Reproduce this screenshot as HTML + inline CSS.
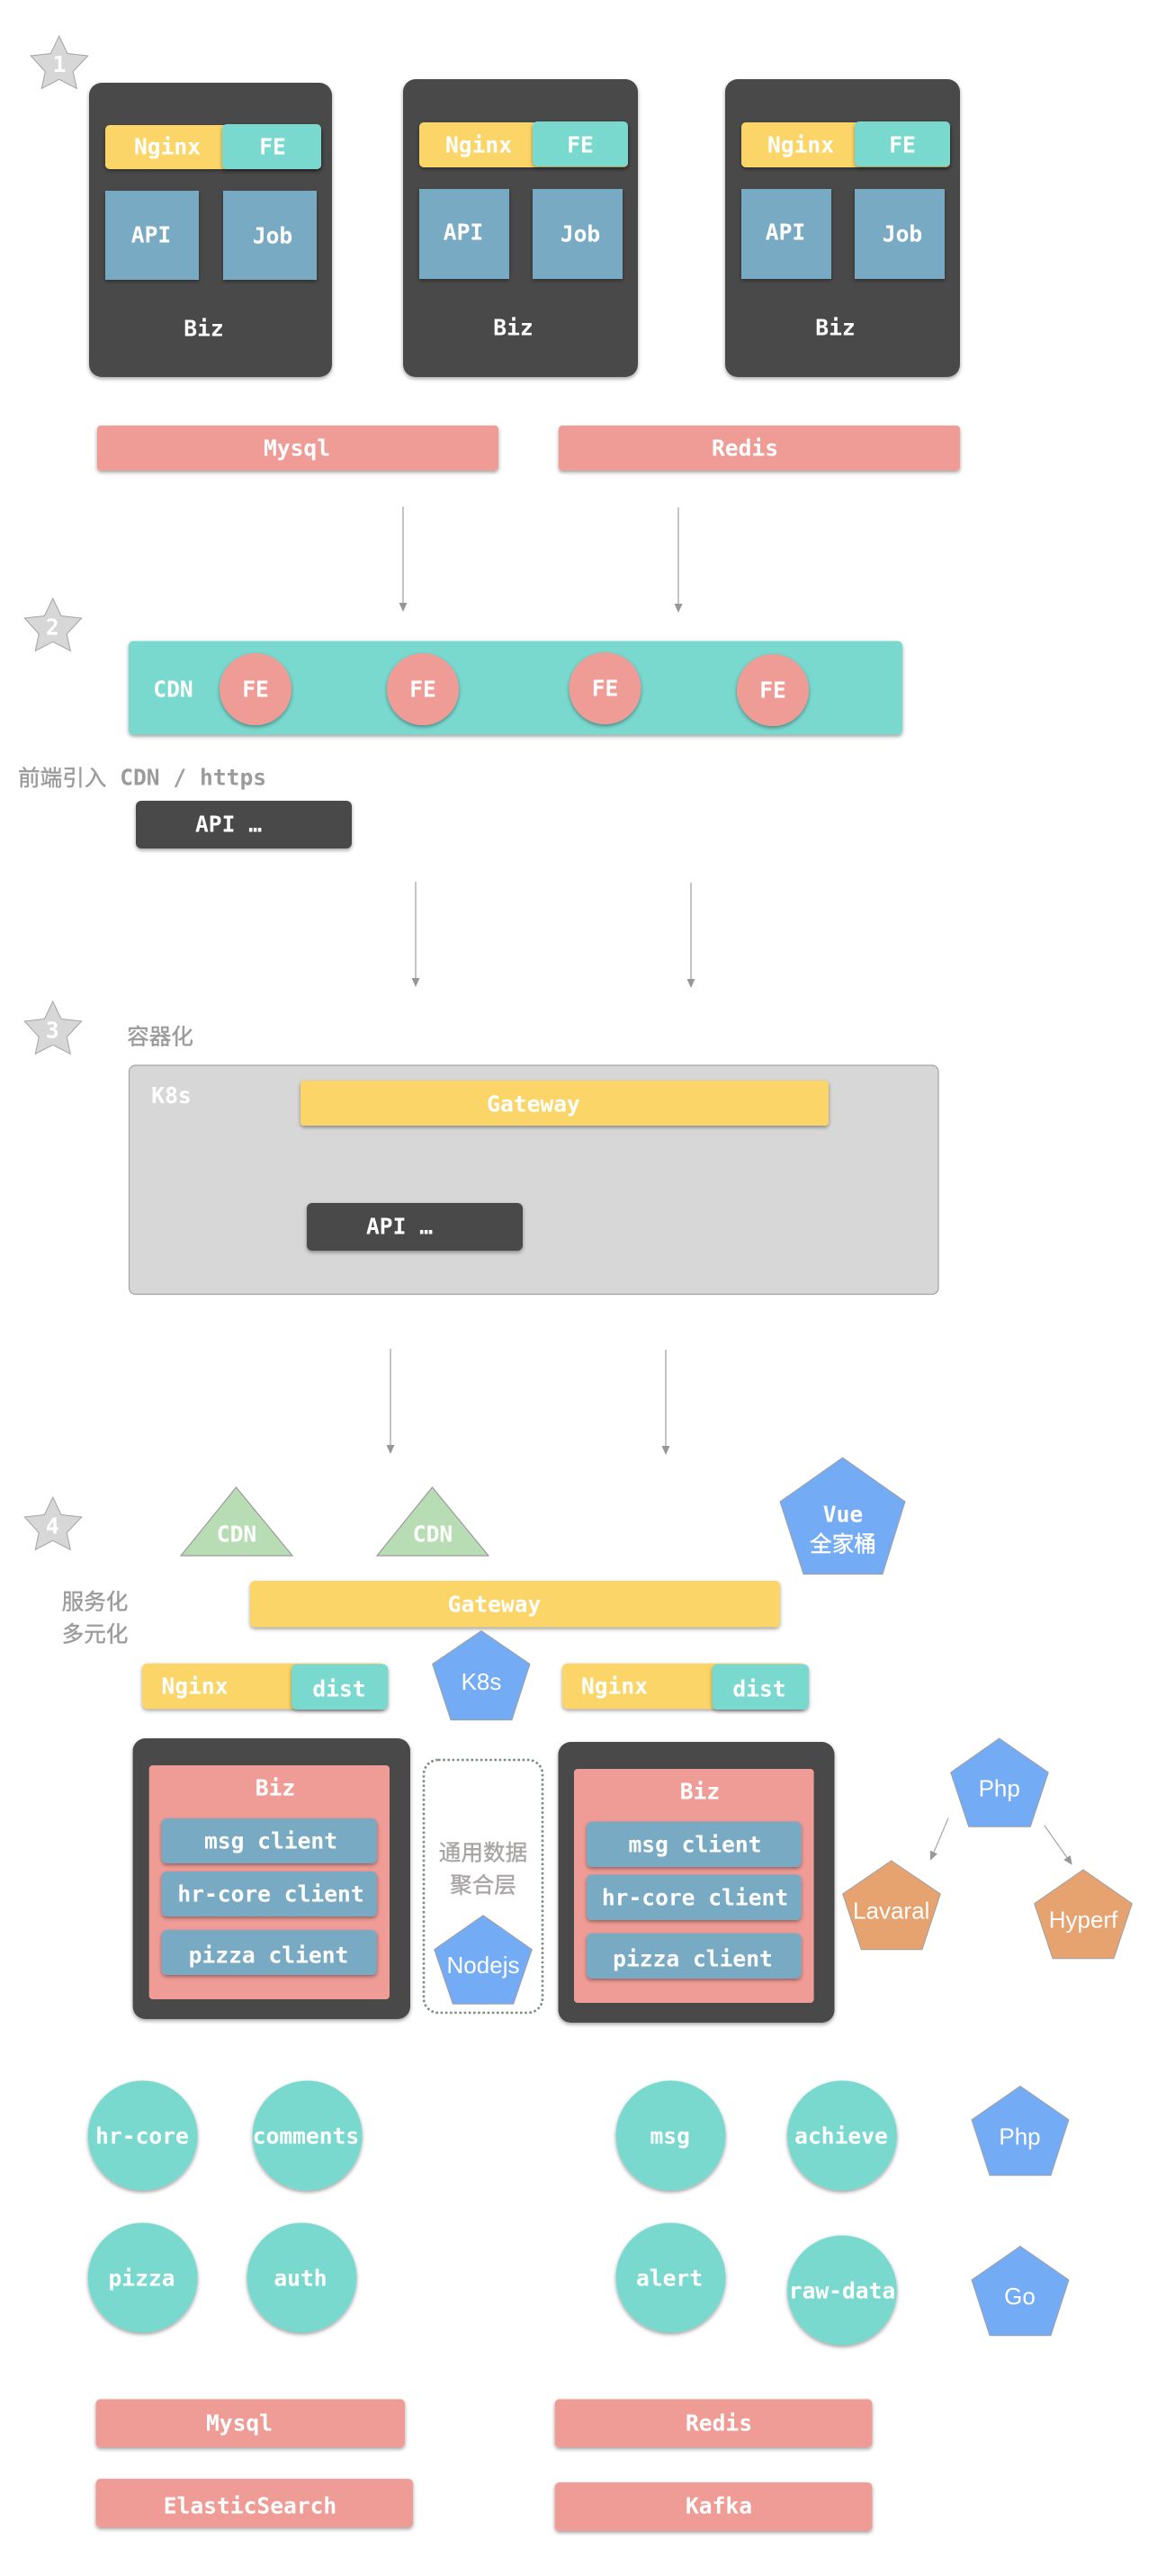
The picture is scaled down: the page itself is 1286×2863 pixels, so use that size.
<!DOCTYPE html>
<html><head><meta charset="utf-8">
<style>
html,body{margin:0;padding:0;background:#fff}
svg{display:block}
text{font-family:"DejaVu Sans Mono","Noto Sans CJK SC",monospace;font-weight:bold;font-size:24.6px;fill:#fff;text-anchor:middle;dominant-baseline:central}
text.s{font-family:"Liberation Sans","Noto Sans CJK SC",sans-serif;font-weight:normal;font-size:26px}
text.g{fill:#9b9b9b}
.c{font-weight:400;stroke-width:.4px}
.dk{fill:#4a4a4a}.ye{fill:#fbd568}.te{fill:#7ad9cf}.bl{fill:#78aac3}.pk{fill:#f09c96}
.pn{fill:#74abf5;stroke:#a0a0a0;stroke-width:1}
.or{fill:#e6a26f;stroke:#a0a0a0;stroke-width:1}
.tr{fill:#b8dcb4;stroke:#9b9b9b;stroke-width:1.2}
.ln{stroke:#b5b5b5;stroke-width:1.6;fill:none}
.ah{fill:#979797}
.sd rect,.sd ellipse,.sd circle{filter:url(#sh)}
</style></head>
<body>
<svg xmlns="http://www.w3.org/2000/svg" width="1286" height="2863" viewBox="0 0 1286 2863">
<defs>
<filter id="sh" x="-20%" y="-20%" width="140%" height="150%"><feDropShadow dx="0" dy="2" stdDeviation="2" flood-color="#000" flood-opacity="0.38"/></filter>
<polygon id="star" points="65.7,40 75,59.5 97.7,62 81.2,79.5 85.3,98.3 65.7,88.3 46.3,98.3 50.2,79.5 34.3,62 56.4,59.5" fill="#d7d7d7" stroke="#a3a3a3" stroke-width="1"/>
</defs>
<rect width="1286" height="2863" fill="#fff"/>

<!-- stars -->
<use href="#star"/>
<text x="66" y="71.5">1</text>
<use href="#star" transform="translate(-7,625)"/>
<text x="58.3" y="697">2</text>
<use href="#star" transform="translate(-7,1073)"/>
<text x="58.3" y="1145">3</text>
<use href="#star" transform="translate(-7,1624)"/>
<text x="58.3" y="1696">4</text>

<g class="sd">
<!-- section 1 -->
<rect class="dk" x="99" y="92" width="270" height="327" rx="14"/>
<rect class="dk" x="448" y="88" width="261" height="331" rx="14"/>
<rect class="dk" x="806" y="88" width="261" height="331" rx="14"/>

<rect class="ye" x="117" y="139" width="240" height="49" rx="5"/>
<rect class="te" x="247" y="138" width="110" height="50" rx="5"/>
<rect class="bl" x="117" y="212" width="104" height="99"/>
<rect class="bl" x="248" y="212" width="104" height="99"/>

<rect class="ye" x="466" y="136" width="232" height="50" rx="5"/>
<rect class="te" x="592" y="135" width="106" height="50" rx="5"/>
<rect class="bl" x="466" y="210" width="100" height="100"/>
<rect class="bl" x="592" y="210" width="100" height="100"/>

<rect class="ye" x="824" y="136" width="232" height="50" rx="5"/>
<rect class="te" x="950" y="135" width="106" height="50" rx="5"/>
<rect class="bl" x="824" y="210" width="100" height="100"/>
<rect class="bl" x="950" y="210" width="100" height="100"/>

<rect class="pk" x="108" y="473" width="446" height="50" rx="4"/>
<rect class="pk" x="621" y="473" width="446" height="50" rx="4"/>

<!-- section 2 -->
<rect class="te" x="143" y="712.5" width="860" height="104" rx="5"/>
<circle class="pk" cx="284" cy="766" r="40"/>
<circle class="pk" cx="470" cy="766" r="40"/>
<circle class="pk" cx="672.5" cy="765" r="40"/>
<circle class="pk" cx="859" cy="767" r="40"/>
<rect class="dk" x="151" y="890" width="240" height="53" rx="6"/>
</g>

<!-- section 1 text -->
<text x="186" y="163">Nginx</text><text x="303" y="163">FE</text>
<text x="168" y="261">API</text><text x="303" y="262">Job</text><text x="226.5" y="365">Biz</text>
<text x="532" y="161">Nginx</text><text x="645" y="161">FE</text>
<text x="515" y="258">API</text><text x="645" y="260">Job</text><text x="570.5" y="364">Biz</text>
<text x="890" y="161">Nginx</text><text x="1003" y="161">FE</text>
<text x="873" y="258">API</text><text x="1003" y="260">Job</text><text x="928.5" y="364">Biz</text>
<text x="330" y="498">Mysql</text><text x="828" y="498">Redis</text>

<!-- arrows 1 -->
<path class="ln" d="M448 563V672M754 564V673M462 980V1090M768 981V1091M434 1499V1609M740 1500V1610"/>
<path class="ah" d="M443.5 670h9l-4.5 10zM749.5 671h9l-4.5 10zM457.5 1087h9l-4.5 10zM763.5 1088h9l-4.5 10zM429.5 1606h9l-4.5 10zM735.5 1607h9l-4.5 10z"/>

<!-- section 2 text -->
<text x="192.5" y="766">CDN</text>
<text x="284" y="766">FE</text><text x="470" y="766">FE</text><text x="672.5" y="765">FE</text><text x="859" y="767">FE</text>
<text class="g" x="20" y="864" style="text-anchor:start"><tspan class="c" stroke="#9b9b9b">前端引入</tspan> CDN / https</text>
<text x="254" y="916">API …</text>

<!-- section 3 -->
<text class="g c" stroke="#9b9b9b" x="178" y="1152">容器化</text>
<rect x="143.5" y="1184" width="899.5" height="254.5" rx="7" fill="#d7d7d7" stroke="#a5a5a5" stroke-width="1.2"/>
<text x="190.5" y="1217.5">K8s</text>
<g class="sd">
<rect class="ye" x="334" y="1201" width="587" height="50" rx="4"/>
<rect class="dk" x="341" y="1337" width="240" height="53" rx="6"/>
</g>
<text x="593" y="1227">Gateway</text>
<text x="444" y="1363">API …</text>

<!-- section 4 top -->
<polygon class="tr" points="262.5,1653 325,1729 201,1729"/>
<polygon class="tr" points="480.5,1653 543,1729 419,1729"/>
<text x="263" y="1705">CDN</text><text x="481" y="1705">CDN</text>
<polygon class="pn" points="936.6,1620 1006,1669 981,1749.5 893,1749.5 867,1669"/>
<text x="937" y="1683">Vue</text><text class="c" stroke="#fff" x="937" y="1716">全家桶</text>
<text class="g c" stroke="#9b9b9b" x="105.5" y="1780">服务化</text>
<text class="g c" stroke="#9b9b9b" x="105.5" y="1816">多元化</text>
<g class="sd">
<rect class="ye" x="278" y="1757" width="589" height="51.5" rx="5"/>
<rect class="ye" x="158" y="1848.7" width="270" height="50.5" rx="6"/>
<rect class="te" x="324" y="1849.6" width="107.4" height="50.4" rx="6"/>
<rect class="ye" x="625" y="1848.7" width="270" height="50.5" rx="6"/>
<rect class="te" x="791.5" y="1849.6" width="107.5" height="50.4" rx="6"/>
</g>
<text x="549.5" y="1783">Gateway</text>
<text x="216.5" y="1874">Nginx</text><text x="377" y="1877">dist</text>
<text x="683" y="1874">Nginx</text><text x="844" y="1877">dist</text>
<polygon class="pn" points="535,1812.5 589,1849.5 569,1911.6 501,1911.6 480.6,1849.5"/>
<text class="s" x="535" y="1869">K8s</text>

<!-- biz cards -->
<g class="sd">
<rect class="dk" x="147.6" y="1932" width="308.4" height="312" rx="14"/>
<rect class="dk" x="620.5" y="1936" width="307" height="312" rx="14"/>
</g>
<rect class="pk" x="165.7" y="1962" width="267.3" height="260" rx="4"/>
<rect class="pk" x="638" y="1966" width="266.6" height="260" rx="4"/>
<g class="sd">
<rect class="bl" x="179.6" y="2021" width="239.4" height="50" rx="6"/>
<rect class="bl" x="179.6" y="2080" width="239.4" height="50" rx="6"/>
<rect class="bl" x="179.6" y="2145" width="239.4" height="50" rx="6"/>
<rect class="bl" x="652" y="2024.6" width="238.7" height="50.4" rx="6"/>
<rect class="bl" x="652" y="2083.5" width="238.7" height="50.5" rx="6"/>
<rect class="bl" x="652" y="2148.6" width="238.7" height="50.4" rx="6"/>
</g>
<text x="306" y="1987">Biz</text><text x="778" y="1991">Biz</text>
<text x="301" y="2046">msg client</text><text x="301" y="2105">hr-core client</text><text x="298.5" y="2173">pizza client</text>
<text x="772.5" y="2050">msg client</text><text x="772.5" y="2109">hr-core client</text><text x="770" y="2177">pizza client</text>

<!-- aggregation -->
<rect x="471" y="1956" width="132" height="281" rx="16" fill="#fff" stroke="#7f8c7f" stroke-width="2.6" stroke-dasharray="2.6 2.6"/>
<text class="c" stroke="#a9a5a5" x="537" y="2059" style="fill:#a9a5a5">通用数据</text>
<text class="c" stroke="#a9a5a5" x="537" y="2095" style="fill:#a9a5a5">聚合层</text>
<polygon class="pn" points="537,2128.7 591.3,2166.7 570.7,2227.3 503.3,2227.3 482.7,2166.7"/>
<text class="s" x="537" y="2184">Nodejs</text>

<!-- php tree -->
<polygon class="pn" points="1110.7,1932 1165.3,1970 1145.3,2030.3 1076.7,2030.3 1056.7,1970"/>
<text class="s" x="1110.7" y="1987.5">Php</text>
<path d="M1054 2020.7L1038 2058.5M1160.7 2028.7L1186 2064.5" stroke="#a5a5a5" stroke-width="1.2" fill="none"/>
<path class="ah" d="M1034 2067.7L1033.8 2056.7L1042 2060.3zM1191.7 2072.7L1182.3 2067L1189.7 2062z"/>
<polygon class="or" points="990.7,2068 1045.3,2105 1025,2166.7 957.3,2166.7 936.7,2105"/>
<text class="s" x="990.7" y="2123.5">Lavaral</text>
<polygon class="or" points="1204,2078 1258.3,2115.7 1238,2176.7 1170,2176.7 1149.7,2115.7"/>
<text class="s" x="1204" y="2133.5">Hyperf</text>

<!-- services -->
<g class="sd">
<circle class="te" cx="158.7" cy="2373.5" r="61"/>
<circle class="te" cx="341.6" cy="2373.5" r="61"/>
<circle class="te" cx="745.5" cy="2373.5" r="61"/>
<circle class="te" cx="936" cy="2373.5" r="61"/>
<circle class="te" cx="158.7" cy="2531.5" r="61"/>
<circle class="te" cx="335.5" cy="2531.5" r="61"/>
<circle class="te" cx="745.5" cy="2531.5" r="61"/>
<circle class="te" cx="936" cy="2545.5" r="61"/>
<rect class="pk" x="106.6" y="2666.5" width="343.4" height="53.5" rx="5"/>
<rect class="pk" x="616.7" y="2666.5" width="352.7" height="53.5" rx="5"/>
<rect class="pk" x="106.6" y="2755" width="352.4" height="54" rx="5"/>
<rect class="pk" x="616.7" y="2759" width="352.7" height="54" rx="5"/>
</g>
<text x="158" y="2374">hr-core</text><text x="340" y="2374">comments</text>
<text x="744.7" y="2374">msg</text><text x="935" y="2374">achieve</text>
<text x="157.5" y="2532">pizza</text><text x="334" y="2532">auth</text>
<text x="744" y="2532">alert</text><text x="936" y="2546">raw-data</text>
<polygon class="pn" points="1134,2318.5 1188,2356 1168,2417.7 1100,2417.7 1080,2356"/>
<text class="s" x="1133.5" y="2374.6">Php</text>
<polygon class="pn" points="1134,2496.5 1188,2534 1168,2595.8 1100,2595.8 1080,2534"/>
<text class="s" x="1133.5" y="2552">Go</text>
<text x="266" y="2693">Mysql</text><text x="799" y="2693">Redis</text>
<text x="278" y="2785">ElasticSearch</text><text x="799" y="2785">Kafka</text>
</svg>
</body></html>
